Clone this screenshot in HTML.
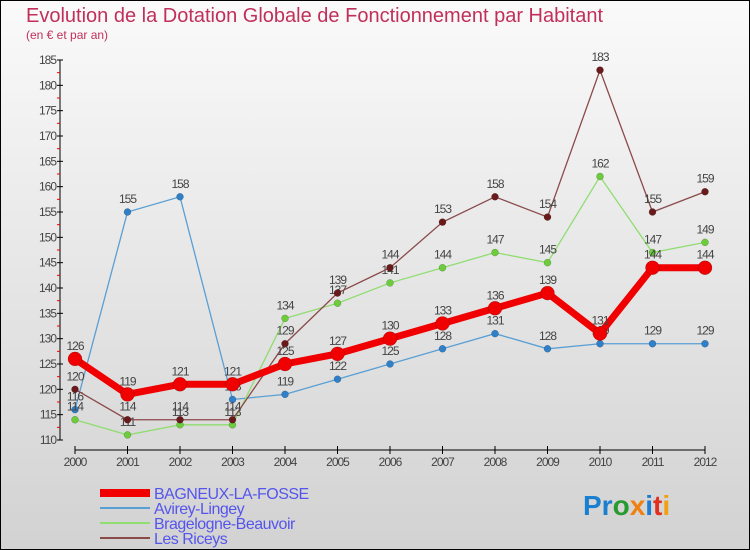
<!DOCTYPE html>
<html><head><meta charset="utf-8"><style>
body{margin:0}
#wrap{width:750px;height:550px;position:relative;box-sizing:border-box;border:1px solid #000;background:linear-gradient(#fafafa,#d2d2d2);font-family:"Liberation Sans",sans-serif;overflow:hidden}
</style></head><body>
<div id="wrap">
<svg id="chart" width="750" height="550" style="position:absolute;left:-1px;top:-1px">
<text x="26" y="22" font-size="20" fill="#c0305a">Evolution de la Dotation Globale de Fonctionnement par Habitant</text>
<text x="26" y="39" font-size="12" fill="#c0305a">(en € et par an)</text>
<g id="axes"></g><g id="series"></g><g id="legend"></g>
<text x="583" y="515" font-size="28" font-weight="bold"><tspan fill="#1a7fd0">Pr</tspan><tspan fill="#2a9a30">o</tspan><tspan fill="#f08010">x</tspan><tspan fill="#1a7fd0">i</tspan><tspan fill="#e03020">t</tspan><tspan fill="#f0a010">i</tspan></text>
</svg>
</div>
<script>
const years=[2000,2001,2002,2003,2004,2005,2006,2007,2008,2009,2010,2011,2012];
const yTicks=[110,115,120,125,130,135,140,145,150,155,160,165,170,175,180,185];
const bagneux=[126,119,121,121,125,127,130,133,136,139,131,144,144];
const avirey=[116,155,158,118,119,122,125,128,131,128,129,129,129];
const bragelogne=[114,111,113,113,134,137,141,144,147,145,162,147,149];
const riceys=[120,114,114,114,129,139,144,153,158,154,183,155,159];
const NS="http://www.w3.org/2000/svg";
const X=i=>75+i*52.5;
const Y=v=>440-(v-110)*380/75;
function mk(t,a,p){const e=document.createElementNS(NS,t);for(const k in a)e.setAttribute(k,a[k]);p.appendChild(e);return e;}
const ax=document.getElementById('axes');
const yl=mk('line',{x1:60,y1:Y(185),x2:60,y2:Y(110),stroke:'#000','stroke-width':1},ax);


yTicks.forEach(v=>{
 mk('line',{x1:57,x2:63,y1:Y(v),y2:Y(v),stroke:'#000'},ax);
 if(v<185)mk('line',{x1:57,x2:60,y1:Y(v+2.5),y2:Y(v+2.5),stroke:'#e00'},ax);
 const t=mk('text',{x:56,y:Y(v)+4,'font-size':12,fill:'#444','text-anchor':'end','letter-spacing':'-1'},ax);
 t.textContent=v;
 
 
});
const xl=mk('line',{x1:75,x2:705,y1:450,y2:450,stroke:'#000'},ax);


years.forEach((y,i)=>{
 mk('line',{x1:X(i),x2:X(i),y1:446,y2:454,stroke:'#000'},ax);
 const t=mk('text',{x:X(i),y:466,'font-size':12,fill:'#444','text-anchor':'middle','letter-spacing':'-1'},ax);
 t.textContent=y;
 
 
});
const sg=document.getElementById('series');
const defs=[
 {d:avirey,c:'#5a9fd4',dot:'#2f80c8',w:1.3,r:3.5,name:'avirey-lingey'},
 {d:bragelogne,c:'#90dd70',dot:'#6ccc3c',w:1.3,r:3.5,name:'bragelogne-beauvoir'},
 {d:riceys,c:'#8a4a4a',dot:'#6a1a1a',w:1.3,r:3.5,name:'les-riceys'},
 {d:bagneux,c:'#f00000',dot:'#f00000',w:7,r:7,name:'bagneux-la-fosse'}];
defs.forEach(s=>{
 const g=mk('g',{},sg);
 
 
 const l=mk('polyline',{points:s.d.map((v,i)=>X(i)+','+Y(v)).join(' '),fill:'none',stroke:s.c,'stroke-width':s.w},g);
 
 
 s.d.forEach((v,i)=>{
  const c=mk('circle',{cx:X(i),cy:Y(v),r:s.r,fill:s.dot,stroke:'rgba(0,0,0,0.3)','stroke-width':0.5},g);
  
  
  const t=mk('text',{x:X(i),y:Y(v)-9,'font-size':12,fill:'#444','text-anchor':'middle','letter-spacing':'-1'},g);
  t.textContent=v;
  
  
 });
});
const lg=document.getElementById('legend');
const leg=[['BAGNEUX-LA-FOSSE','#f00000',8],['Avirey-Lingey','#5a9fd4',2],['Bragelogne-Beauvoir','#90dd70',2],['Les Riceys','#8a4a4a',2]];
leg.forEach((e,i)=>{
 const y=493+i*15;
 const ln=mk('line',{x1:100,x2:150,y1:y,y2:y,stroke:e[1],'stroke-width':e[2]},lg);
 
 
 const t=mk('text',{x:154,y:y+6,'font-size':16,fill:'#5555ee','letter-spacing':'-0.5'},lg);
 t.textContent=e[0];
 
 
});
</script>
</body></html>
